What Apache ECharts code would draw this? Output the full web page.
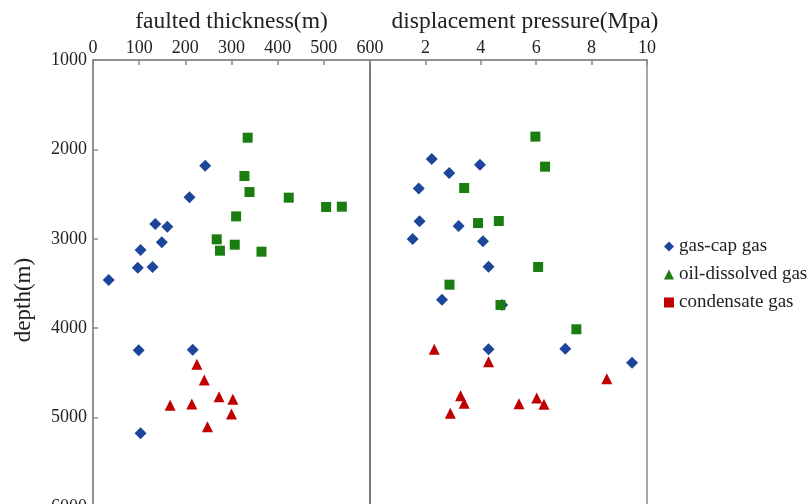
<!DOCTYPE html>
<html>
<head>
<meta charset="utf-8">
<script src="https://cdn.jsdelivr.net/npm/echarts@6/dist/echarts.min.js"></script>
<style>
html,body{margin:0;padding:0;background:#fff;}
#chart{width:811px;height:504px;}
</style>
</head>
<body>
<div id="chart"></div>
<script>
// ---- data ----
var seriesNames = ['gas-cap gas', 'oil-dissolved gas', 'condensate gas'];
var thicknessTicks = [0, 100, 200, 300, 400, 500, 600];
var pressureTicks = [2, 4, 6, 8, 10];
var depthTicks = [1000, 2000, 3000, 4000, 5000, 6000];

// left panel: faulted thickness (m) vs depth (m)
var gasCapThickness = [243, 209, 135, 161, 149, 103, 97, 129, 34, 99, 216, 103];
var gasCapDepthL    = [2182, 2536, 2834, 2864, 3039, 3125, 3323, 3315, 3461, 4247, 4240, 5176];
var oilThickness    = [335, 328, 339, 424, 505, 539, 310, 268, 307, 275, 365];
var oilDepthL       = [1869, 2298, 2477, 2540, 2644, 2641, 2749, 3006, 3066, 3133, 3144];
var condThickness   = [225, 241, 273, 303, 167, 214, 300, 248];
var condDepthL      = [4404, 4579, 4766, 4795, 4862, 4848, 4960, 5102];

// right panel: displacement pressure (MPa) vs depth (m)
var gasCapPressure = [2.23, 2.86, 3.97, 1.76, 1.79, 3.2, 1.54, 4.08, 4.28, 2.6, 4.77, 4.28, 7.05, 9.46];
var gasCapDepthR   = [2107, 2264, 2171, 2436, 2805, 2857, 3002, 3028, 3312, 3681, 3740, 4236, 4229, 4386];
var oilPressure    = [5.97, 6.32, 3.4, 3.9, 4.65, 6.07, 2.87, 4.71, 7.45];
var oilDepthR      = [1857, 2193, 2432, 2824, 2801, 3315, 3513, 3740, 4012];
var condPressure   = [2.32, 4.28, 8.55, 3.27, 3.4, 2.9, 5.38, 6.02, 6.28];
var condDepthR     = [4236, 4375, 4565, 4755, 4840, 4952, 4844, 4781, 4851];

// ---- build ----
function zip(xs, ys) { return xs.map(function (x, i) { return [x, ys[i]]; }); }

var FONT = '"Liberation Serif", "DejaVu Serif", serif';
var AXIS_COLOR = '#8a8a8a';
var TEXT_COLOR = '#222';
var colors = ['#1c4699', '#1a7d10', '#c00000'];

var chart = echarts.init(document.getElementById('chart'), null, {renderer: 'canvas'});

function xAxisCfg(gridIndex, name, min, max, interval, ticks, namePad) {
  return {
    type: 'value', gridIndex: gridIndex, position: 'top',
    min: min, max: max, interval: interval,
    name: name, nameLocation: 'middle', nameGap: 22,
    nameTextStyle: {fontFamily: FONT, fontSize: 23.5, color: TEXT_COLOR, padding: namePad},
    axisLine: {show: true, lineStyle: {color: AXIS_COLOR, width: 1.5}},
    axisTick: {show: true, inside: true, length: 5, lineStyle: {color: AXIS_COLOR, width: 1.5}},
    axisLabel: {
      fontFamily: FONT, fontSize: 18, color: TEXT_COLOR, margin: 3,
      formatter: function (v) { return ticks.indexOf(v) >= 0 ? String(v) : ''; }
    },
    splitLine: {show: false}
  };
}

chart.setOption({
  animation: false,
  backgroundColor: '#fff',
  grid: [
    {left: 93, top: 60, width: 277, height: 447, containLabel: false, outerBoundsMode: 'none', show: true, borderColor: AXIS_COLOR, borderWidth: 1.5, backgroundColor: 'transparent'},
    {left: 370, top: 60, width: 277, height: 447, containLabel: false, outerBoundsMode: 'none', show: true, borderColor: AXIS_COLOR, borderWidth: 1.5, backgroundColor: 'transparent'}
  ],
  xAxis: [
    xAxisCfg(0, 'faulted thickness(m)', 0, 600, 100, thicknessTicks, [0, 0, 0, 0]),
    xAxisCfg(1, 'displacement pressure(Mpa)', 0, 10, 2, pressureTicks, [0, 0, 0, 33])
  ],
  yAxis: [
    {
      type: 'value', gridIndex: 0, inverse: true, min: 1000, max: 6000, interval: 1000,
      name: 'depth(m)', nameLocation: 'middle', nameGap: 58, nameRotate: 90,
      nameTextStyle: {fontFamily: FONT, fontSize: 23, color: TEXT_COLOR, padding: [0, 33, 0, 0]},
      axisLine: {show: true, lineStyle: {color: AXIS_COLOR, width: 1.5}},
      axisTick: {show: true, inside: true, length: 5, lineStyle: {color: AXIS_COLOR, width: 1.5}},
      axisLabel: {
        fontFamily: FONT, fontSize: 18, color: TEXT_COLOR, margin: 6,
        formatter: function (v) { return depthTicks.indexOf(v) >= 0 ? String(v) : ''; }
      },
      splitLine: {show: false}
    },
    {
      type: 'value', gridIndex: 1, inverse: true, min: 1000, max: 6000, interval: 1000,
      axisLine: {show: true, lineStyle: {color: '#707070', width: 1.5}},
      axisTick: {show: false}, axisLabel: {show: false}, splitLine: {show: false}
    }
  ],
  legend: {
    orient: 'vertical', left: 659, top: 232, itemGap: 9,
    itemWidth: 10, itemHeight: 10,
    textStyle: {fontFamily: FONT, fontSize: 19, color: TEXT_COLOR},
    data: [
      {name: seriesNames[0], icon: 'diamond'},
      {name: seriesNames[1], icon: 'triangle'},
      {name: seriesNames[2], icon: 'rect'}
    ]
  },
  series: [
    {name: seriesNames[0], type: 'scatter', xAxisIndex: 0, yAxisIndex: 0, symbol: 'diamond', symbolSize: 12, itemStyle: {color: colors[0], opacity: 1}, data: zip(gasCapThickness, gasCapDepthL)},
    {name: seriesNames[1], type: 'scatter', xAxisIndex: 0, yAxisIndex: 0, symbol: 'rect', symbolSize: 10, itemStyle: {color: colors[1], opacity: 1}, data: zip(oilThickness, oilDepthL)},
    {name: seriesNames[2], type: 'scatter', xAxisIndex: 0, yAxisIndex: 0, symbol: 'triangle', symbolSize: 11, itemStyle: {color: colors[2], opacity: 1}, data: zip(condThickness, condDepthL)},
    {name: seriesNames[0], type: 'scatter', xAxisIndex: 1, yAxisIndex: 1, symbol: 'diamond', symbolSize: 12, itemStyle: {color: colors[0], opacity: 1}, data: zip(gasCapPressure, gasCapDepthR)},
    {name: seriesNames[1], type: 'scatter', xAxisIndex: 1, yAxisIndex: 1, symbol: 'rect', symbolSize: 10, itemStyle: {color: colors[1], opacity: 1}, data: zip(oilPressure, oilDepthR)},
    {name: seriesNames[2], type: 'scatter', xAxisIndex: 1, yAxisIndex: 1, symbol: 'triangle', symbolSize: 11, itemStyle: {color: colors[2], opacity: 1}, data: zip(condPressure, condDepthR)}
  ]
});
</script>
</body>
</html>
